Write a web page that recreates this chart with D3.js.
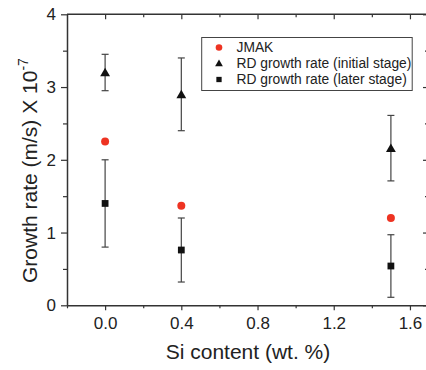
<!DOCTYPE html>
<html>
<head>
<meta charset="utf-8">
<script src="https://cdn.jsdelivr.net/npm/d3@7"></script>
<style>
  html, body { margin: 0; padding: 0; background: #fff; }
  svg { display: block; }
  text { font-family: "Liberation Sans", Arial, Helvetica, sans-serif; fill: #222; }
</style>
</head>
<body>
<svg id="chart" width="426" height="370"></svg>
<script>
// Si content (wt. %)
const siContent = [0.0, 0.4, 1.5];
// JMAK model growth rate (x 1e-7 m/s)
const jmak = [2.25, 1.37, 1.2];
// RD growth rate, initial stage, and its error half-width
const rdInitial = [3.2, 2.9, 2.16];
const rdInitialErr = [0.25, 0.5, 0.45];
// RD growth rate, later stage, and its error half-width
const rdLater = [1.4, 0.76, 0.54];
const rdLaterErr = [0.6, 0.44, 0.43];

const xTicks = [0.0, 0.4, 0.8, 1.2, 1.6];
const xMinor = [-0.2, 0.2, 0.6, 1.0, 1.4];
const yTicks = [0, 1, 2, 3, 4];
const yMinor = [0.5, 1.5, 2.5, 3.5];
const legendLabels = ["JMAK", "RD growth rate (initial stage)", "RD growth rate (later stage)"];

const svg = d3.select("#chart");
const plotLeft = 67, plotRight = 429, plotTop = 14.3, plotBottom = 305.3;

const x = d3.scaleLinear().domain([-0.2, 1.7]).range([plotLeft, plotRight]);
const y = d3.scaleLinear().domain([0, 4]).range([plotBottom, plotTop]);

const axisColor = "#333";
const fmt = d3.format(".1f");

// Frame: top and right edges
svg.append("line").attr("x1", plotLeft).attr("x2", plotRight).attr("y1", plotTop).attr("y2", plotTop)
  .attr("stroke", axisColor).attr("stroke-width", 1.5);
svg.append("line").attr("x1", plotRight).attr("x2", plotRight).attr("y1", plotTop).attr("y2", plotBottom)
  .attr("stroke", axisColor).attr("stroke-width", 1.5);

function styleTicks(g) {
  g.selectAll(".tick line").attr("stroke", axisColor).attr("stroke-width", 1.2);
}
function tickOnly(g) {
  g.select(".domain").remove();
  styleTicks(g);
}

// Bottom axis
const gx = svg.append("g").attr("transform", `translate(0,${plotBottom})`)
  .call(d3.axisBottom(x).tickValues(xTicks).tickFormat(fmt).tickSize(5).tickPadding(7).tickSizeOuter(0));
gx.select(".domain").attr("stroke", axisColor).attr("stroke-width", 1.5);
styleTicks(gx);
gx.selectAll(".tick text").attr("font-size", 17).attr("fill", "#222")
  .attr("font-family", "'Liberation Sans', Arial, sans-serif");
svg.append("g").attr("transform", `translate(0,${plotBottom})`)
  .call(d3.axisBottom(x).tickValues(xMinor).tickFormat("").tickSize(3).tickSizeOuter(0))
  .call(tickOnly);

// Top axis ticks (inward)
svg.append("g").attr("transform", `translate(0,${plotTop})`)
  .call(d3.axisBottom(x).tickValues(xTicks).tickFormat("").tickSize(5).tickSizeOuter(0))
  .call(tickOnly);
svg.append("g").attr("transform", `translate(0,${plotTop})`)
  .call(d3.axisBottom(x).tickValues(xMinor.filter(v => v > -0.2)).tickFormat("").tickSize(3).tickSizeOuter(0))
  .call(tickOnly);

// Left axis
const gy = svg.append("g").attr("transform", `translate(${plotLeft},0)`)
  .call(d3.axisLeft(y).tickValues(yTicks).tickFormat(d3.format("d")).tickSize(6).tickPadding(5).tickSizeOuter(0));
gy.select(".domain").attr("stroke", axisColor).attr("stroke-width", 1.5);
styleTicks(gy);
gy.selectAll(".tick text").attr("font-size", 17).attr("fill", "#222")
  .attr("font-family", "'Liberation Sans', Arial, sans-serif");
svg.append("g").attr("transform", `translate(${plotLeft},0)`)
  .call(d3.axisLeft(y).tickValues(yMinor).tickFormat("").tickSize(4).tickSizeOuter(0))
  .call(tickOnly);

// Right axis ticks (inward)
svg.append("g").attr("transform", `translate(${plotRight},0)`)
  .call(d3.axisRight(y).tickValues(yTicks).tickFormat("").tickSize(-6).tickSizeOuter(0))
  .call(tickOnly);
svg.append("g").attr("transform", `translate(${plotRight},0)`)
  .call(d3.axisRight(y).tickValues(yMinor).tickFormat("").tickSize(-4).tickSizeOuter(0))
  .call(tickOnly);

// Axis titles
svg.append("text").attr("x", 248).attr("y", 359).attr("text-anchor", "middle")
  .attr("font-size", 21).text("Si content (wt. %)");

const yl = svg.append("text").attr("transform", "translate(37,283) rotate(-90)")
  .attr("text-anchor", "start").attr("font-size", 21);
yl.append("tspan").text("Growth rate (m/s) X 10");
yl.append("tspan").attr("font-size", 14).attr("dy", -9).text("-7");

// Error bars
const errColor = "#444";
function errorBars(vals, errs) {
  const data = siContent.map((s, i) => ({ s, v: vals[i], e: errs[i] }));
  const g = svg.append("g").attr("stroke", errColor).attr("stroke-width", 1.2);
  g.selectAll("line.stem").data(data).join("line").attr("class", "stem")
    .attr("x1", d => x(d.s)).attr("x2", d => x(d.s))
    .attr("y1", d => y(d.v + d.e)).attr("y2", d => y(d.v - d.e));
  g.selectAll("line.capT").data(data).join("line").attr("class", "capT")
    .attr("x1", d => x(d.s) - 3.5).attr("x2", d => x(d.s) + 3.5)
    .attr("y1", d => y(d.v + d.e)).attr("y2", d => y(d.v + d.e));
  g.selectAll("line.capB").data(data).join("line").attr("class", "capB")
    .attr("x1", d => x(d.s) - 3.5).attr("x2", d => x(d.s) + 3.5)
    .attr("y1", d => y(d.v - d.e)).attr("y2", d => y(d.v - d.e));
}
errorBars(rdInitial, rdInitialErr);
errorBars(rdLater, rdLaterErr);

const red = "#ee3322";
const triangle = d3.symbol().type(d3.symbolTriangle).size(42);
const square = d3.symbol().type(d3.symbolSquare).size(46);

// JMAK points
svg.append("g").selectAll("circle").data(siContent).join("circle")
  .attr("cx", d => x(d)).attr("cy", (d, i) => y(jmak[i])).attr("r", 4).attr("fill", red);
// RD initial stage
svg.append("g").selectAll("path").data(siContent).join("path")
  .attr("d", triangle).attr("fill", "#111")
  .attr("transform", (d, i) => `translate(${x(d)},${y(rdInitial[i]) + 1})`);
// RD later stage
svg.append("g").selectAll("path").data(siContent).join("path")
  .attr("d", square).attr("fill", "#111")
  .attr("transform", (d, i) => `translate(${x(d)},${y(rdLater[i])})`);

// Legend
const lg = svg.append("g");
lg.append("rect").attr("x", 201.7).attr("y", 37.5).attr("width", 210.5).attr("height", 53)
  .attr("fill", "#fff").attr("stroke", "#444").attr("stroke-width", 1);
const rows = [47.5, 63.5, 79.5];
lg.append("circle").attr("cx", 219).attr("cy", rows[0]).attr("r", 3.3).attr("fill", red);
lg.append("path").attr("d", d3.symbol().type(d3.symbolTriangle).size(26)).attr("fill", "#111")
  .attr("transform", `translate(219,${rows[1] + 0.5})`);
lg.append("path").attr("d", d3.symbol().type(d3.symbolSquare).size(28)).attr("fill", "#111")
  .attr("transform", `translate(219,${rows[2]})`);
lg.selectAll("text").data(legendLabels).join("text")
  .attr("x", 236.5).attr("y", (d, i) => rows[i]).attr("dy", "0.36em")
  .attr("font-size", 13.8).attr("fill", "#333").text(d => d);
</script>
</body>
</html>
